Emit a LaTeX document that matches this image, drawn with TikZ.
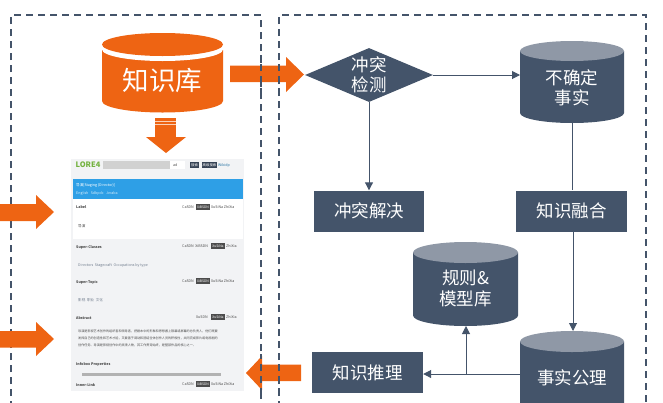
\documentclass[tikz,border=0pt]{standalone}
\usepackage{fontspec}
\setmainfont{Noto Sans CJK SC}
\usetikzlibrary{arrows.meta,shapes.geometric,calc}
\definecolor{navy}{HTML}{44546A}
\definecolor{navylt}{HTML}{8F98A6}
\definecolor{org}{HTML}{EE6413}
\definecolor{shot}{HTML}{F2F3F5}
\definecolor{blueb}{HTML}{2E9FE6}
\tikzset{
  frameline/.style={draw=navy,line width=1.4pt,dash pattern=on 7pt off 5pt},
  boxn/.style={fill=navy,text=white,minimum width=110pt,minimum height=41pt,inner sep=0pt,font=\fontsize{17.5}{20}\selectfont},
  cyl/.style={font=\fontsize{17.5}{20.5}\selectfont,text=white,align=center},
  conn/.style={draw=navy,line width=1pt,-{Triangle[length=8pt,width=8pt]}},
  fatarrow/.style={fill=org},
  tiny/.style={inner sep=0pt,font=\fontsize{3.6}{4}\selectfont,text=#1,anchor=west},
  tiny/.default=black!70,
  tabsel/.style={inner sep=0pt,fill=black!70,text=white,font=\fontsize{3.4}{4}\selectfont,minimum height=6pt,minimum width=14pt}
}
\newcommand{\navycyl}[5]{% x1 x2 ytop ybottom ry
  \fill[navy] (#1,#3+#5) -- (#1,#4-#5) arc[x radius={(#2-#1)/2},y radius=#5,start angle=180,end angle=0] -- (#2,#3+#5) -- cycle;
  \fill[navylt] ({(#1+#2)/2},#3+#5) ellipse[x radius={(#2-#1)/2},y radius=#5];
}
\begin{document}
\begin{tikzpicture}[x=1pt,y=-1pt]
\useasboundingbox (0,0) rectangle (663,402);
% frames
\draw[frameline] (11,420) -- (11,15) -- (261,15) -- (261,420);
\draw[frameline] (279,420) -- (279,15) -- (646,15) -- (646,420);
% knowledge base
\fill[org] (102,50) -- (102,101) arc[x radius=60.5,y radius=11.5,start angle=180,end angle=0] -- (223,50) -- cycle;
\fill[white] (162.5,49.5) ellipse[x radius=60.5,y radius=11.5];
\fill[org] (162.5,44.5) ellipse[x radius=60.5,y radius=11.5];
\node[text=white,font=\fontsize{26.5}{30}\selectfont] (kb) at (162.5,80) {知识库};
% screenshot
\fill[shot] (71,159) rectangle (244,391);
\fill[white] (73,199) rectangle (243,239);
\fill[blueb] (73,179) rectangle (243,199);
\node[inner sep=0pt,font=\bfseries\fontsize{7.5}{8}\selectfont,text=green!55!yellow!60!black!75] (logo) at (88,165) {LORE4};
\fill[black!18] (103,161) rectangle (170,169);
\fill[white] (170,161) rectangle (185,169);
\node[tiny] (t0) at (173,165) {ad};
\node[tabsel,fill=navy!80!black,minimum width=9pt] (b0) at (194.5,165) {搜索};
\node[tabsel,fill=navy!80!black,minimum width=15pt] (b1) at (209.5,165) {高级搜索};
\node[tiny=blueb!70!black] (t1) at (218,165) {Wikidp};
\node[tiny=white] (t2) at (76,185) {导演[Staging (Director)]};
\node[tiny=white!80!blueb] (t3) at (76,194) {English\ \ \ Sdbpdc\ \ \ Jeraba};
\node[tiny] (t4) at (76,207.5) {\bfseries Label};
\node[tiny] (t5) at (182,207) {CaSDN};
\node[tabsel] (s1) at (203,207) {XiBSDN};
\node[tiny] (t6) at (211,207) {XuSiNa\ ZhiXia};
\node[tiny] (t7) at (78,226) {导演};
\node[tiny] (t8) at (76,247) {\bfseries Super-Classes};
\node[tiny] (t9) at (182,246) {CaSDN\ \ XiBSDN};
\node[tabsel] (s2) at (218,246) {XuSiNa};
\node[tiny] (t10) at (226,246) {ZhiXia};
\node[tiny=navy!75] (t11) at (78,265) {Directors\ \ Stagecraft\ \ Occupations by type};
\node[tiny] (t12) at (76,282) {\bfseries Super-Topic};
\node[tiny] (t13) at (182,281) {CaSDN};
\node[tabsel] (s3) at (203,281) {XiBSDN};
\node[tiny] (t14) at (211,281) {XuSiNa\ ZhiXia};
\node[tiny=navy!75] (t15) at (78,300) {影视\ \ 职业\ \ 文化};
\node[tiny] (t16) at (76,318) {\bfseries Abstract};
\node[tiny] (t17) at (196,317) {XuSDN};
\node[tabsel] (s4) at (218,317) {XuSiNa};
\node[tiny] (t18) at (226,317) {ZhiXia};
\node[tiny,font=\fontsize{3.1}{7}\selectfont,align=left,anchor=north west] (t19) at (78,330) {导演是影视艺术创作的组织者和领导者，把剧本中的形象和思想搬上银幕或屏幕的总负责人，他们既要\\发挥自己的创造性和艺术才能，又要善于调动和团结全体创作人员的积极性，共同完成影片或电视剧的\\创作任务。导演是影视创作中的灵魂人物，其工作贯穿始终，是整部作品的核心之一。};
\node[tiny] (t20) at (76,364) {\bfseries Infobox Properties};
\fill[black!30] (82,373) rectangle (221,376);
\node[tiny] (t21) at (76,385) {\bfseries Inner-Link};
\node[tiny] (t22) at (182,384) {CaSDN};
\node[tabsel] (s5) at (203,384) {XiBSDN};
\node[tiny] (t23) at (211,384) {XuSiNa\ ZhiXia};
% thick arrows
\fill[fatarrow] (230,65.5) -- (286,65.5) -- (286,57) -- (304,74.5) -- (286,92) -- (286,82) -- (230,82) -- cycle;
\draw[navy,line width=1.2pt,dash pattern=on 7pt off 5pt,dash phase=3pt] (261,55) -- (261,95);
\draw[navy,line width=1.2pt,dash pattern=on 7pt off 5pt,dash phase=3pt] (279,55) -- (279,95);
\fill[fatarrow] (155,118) rectangle (176,137);
\fill[white!70!org] (155,120.5) rectangle (176,121.3);
\fill[white!70!org] (155,124) rectangle (176,124.8);
\fill[fatarrow] (146,137) -- (186,137) -- (166,153) -- cycle;
\fill[fatarrow] (0,204) -- (36,204) -- (36,195) -- (54,212) -- (36,229) -- (36,221) -- (0,221) -- cycle;
\fill[fatarrow] (0,331) -- (36,331) -- (36,322) -- (54,339) -- (36,356) -- (36,347.5) -- (0,347.5) -- cycle;
\fill[fatarrow] (301,364.5) -- (262,364.5) -- (262,356) -- (246,373) -- (262,390) -- (262,381) -- (301,381) -- cycle;
\draw[navy,line width=1.2pt,dash pattern=on 7pt off 5pt,dash phase=2pt] (261,354) -- (261,392);
\draw[navy,line width=1.2pt,dash pattern=on 7pt off 5pt,dash phase=2pt] (279,354) -- (279,392);
% right side
\node[diamond,aspect=2.37,fill=navy,inner sep=0pt,minimum width=128pt,minimum height=54pt] (det) at (369,75) {};
\node[text=white,align=center,font=\fontsize{17.5}{20}\selectfont] (detl) at (369,75) {冲突\\检测};
\navycyl{520}{624}{41}{123}{10}
\coordinate (ufW) at (520,75);
\coordinate (ufS) at (572,123);
\node[cyl] (ufl) at (572,88) {不确定\\事实};
\node[boxn] (res) at (369,211) {冲突解决};
\node[boxn,minimum width=111pt] (fus) at (571.5,211) {知识融合};
\navycyl{413}{518}{242}{326}{10.5}
\coordinate (ruS) at (466,326);
\node[cyl] (rul) at (465.5,288.5) {规则\&\\模型库};
\navycyl{520}{624}{331}{425}{10.5}
\coordinate (faN) at (573,331);
\coordinate (faW) at (520,374);
\node[cyl] (fal) at (572,378) {事实公理};
\node[boxn,minimum width=111pt] (inf) at (367.5,372.5) {知识推理};
\coordinate (jn) at (466,374);
\draw[conn] (det.east) -- (ufW);
\draw[conn] (det.south) -- (res.north);
\draw[navy,line width=1pt] (ufS) -- (fus.north -| ufS);
\draw[conn] (fus.south -| faN) -- (faN);
\draw[conn] (faW) -- (inf.east |- faW);
\draw[conn] (jn) -- (ruS);
\end{tikzpicture}
\end{document}
